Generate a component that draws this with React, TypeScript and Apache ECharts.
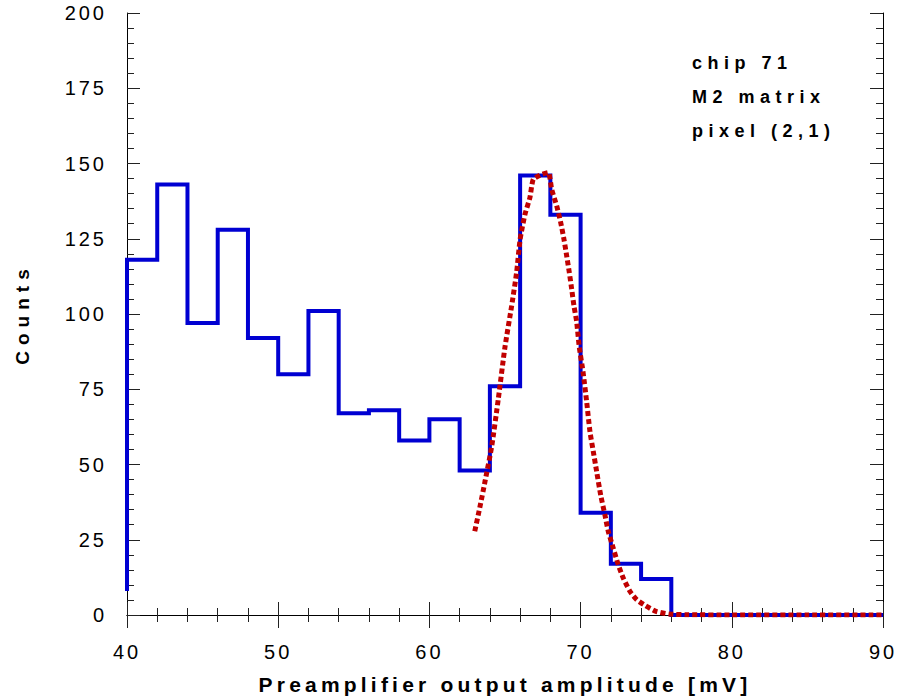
import React, { useEffect, useRef } from "react";
import * as echarts from "echarts";

// Histogram of preamplifier output amplitude, 2 mV bins from 40 to 90 mV
const binStart = 40;
const binWidth = 2;
const leadCount = 8; // level at which the outline starts on the left edge
const counts = [
  118, 143, 97, 128, 92, 80, 101, 67, 68, 58, 65, 48, 76, 146, 133, 34, 17, 12,
  0, 0, 0, 0, 0, 0, 0,
];

// Fitted peak curve (dotted)
const fitX = [
  63.0, 63.35, 63.68, 64.12, 64.56, 65.0, 65.44, 65.77, 66.0, 66.32, 66.65,
  66.87, 67.43, 67.86, 68.09, 68.42, 68.68, 68.9, 69.08, 69.25, 69.41, 69.56,
  69.74, 69.91, 70.16, 70.4, 70.62, 70.84, 71.06, 71.33, 71.61, 71.83, 72.16,
  72.49, 72.82, 73.27, 73.71, 74.26, 74.99, 75.87, 77, 80, 85, 90,
];
const fitY = [
  27.8, 36.1, 44.4, 56.0, 71.9, 89.1, 102.7, 113.9, 124.8, 133.1, 138.7, 144.7,
  146.4, 147.0, 141.4, 135.9, 130.5, 124.8, 119.3, 113.9, 108.3, 102.7, 97.4,
  89.1, 80.8, 70.9, 60.9, 54.3, 47.7, 39.8, 33.2, 27.8, 22.2, 16.7, 12.3, 7.8,
  5.1, 3.2, 1.2, 0.3, 0.1, 0, 0, 0,
];

const annotations = ["chip 71", "M2 matrix", "pixel (2,1)"];
const xTitle = "Preamplifier output amplitude [mV]";
const yTitle = "Counts";

const FONT = "'Liberation Sans', Arial, sans-serif";

// Wide letter spacing used by the plot's lettering
const css = `
.amp-chart text { letter-spacing: 3px; }
.amp-chart text[style*="21px"] { letter-spacing: 4.2px; }
.amp-chart text[style*="19px"] { letter-spacing: 6px; }
.amp-chart text[style*="18px"] { letter-spacing: 5.5px; font-weight: bold; }
`;

export default function App() {
  const ref = useRef<HTMLDivElement>(null);

  useEffect(() => {
    if (!ref.current) return;
    const chart = echarts.init(ref.current, undefined, { renderer: "svg" });

    const stepData: number[][] = [[binStart, leadCount]];
    counts.forEach((c, i) => stepData.push([binStart + i * binWidth, c]));
    stepData.push([binStart + counts.length * binWidth, counts[counts.length - 1]]);

    const fitData = fitX.map((x, i) => [x, fitY[i]]);

    const axisLine = { show: true, lineStyle: { color: "#000", width: 1 } };
    const axisTick = {
      show: true,
      inside: true,
      length: 13,
      lineStyle: { color: "#222", width: 1 },
    };
    const minorTick = {
      show: true,
      splitNumber: 5,
      length: 7,
      lineStyle: { color: "#222", width: 1 },
    };

    chart.setOption({
      animation: false,
      backgroundColor: "#fff",
      grid: { left: 127, right: 15, top: 13, bottom: 83, containLabel: false },
      xAxis: [
        {
          type: "value",
          min: 40,
          max: 90,
          interval: 10,
          axisLine,
          axisTick,
          minorTick,
          splitLine: { show: false },
          axisLabel: {
            margin: 27,
            fontFamily: FONT,
            fontSize: 20,
            color: "#000",
          },
          name: xTitle,
          nameLocation: "middle",
          nameGap: 59,
          nameTextStyle: {
            fontFamily: FONT,
            fontSize: 21,
            fontWeight: "bold",
            color: "#000",
          },
        },
        {
          type: "value",
          position: "top",
          min: 40,
          max: 90,
          interval: 10,
          axisLine,
          axisTick,
          minorTick,
          splitLine: { show: false },
          axisLabel: { show: false },
        },
      ],
      yAxis: [
        {
          type: "value",
          min: 0,
          max: 200,
          interval: 25,
          axisLine,
          axisTick,
          minorTick,
          splitLine: { show: false },
          axisLabel: {
            margin: 20,
            fontFamily: FONT,
            fontSize: 20,
            color: "#000",
          },
          name: yTitle,
          nameLocation: "middle",
          nameGap: 95,
          nameTextStyle: {
            fontFamily: FONT,
            fontSize: 19,
            fontWeight: "bold",
            color: "#000",
          },
        },
        {
          type: "value",
          position: "right",
          min: 0,
          max: 200,
          interval: 25,
          axisLine,
          axisTick,
          minorTick,
          splitLine: { show: false },
          axisLabel: { show: false },
        },
      ],
      graphic: annotations.map((t, i) => ({
        type: "text",
        left: 692,
        top: 54 + i * 34,
        style: {
          text: t,
          font: `bold 18px ${FONT}`,
          fill: "#000",
        },
      })),
      series: [
        {
          type: "line",
          xAxisIndex: 0,
          yAxisIndex: 0,
          data: stepData,
          step: "end",
          symbol: "none",
          lineStyle: { color: "#0000d2", width: 4, join: "miter" },
          z: 2,
        },
        {
          type: "line",
          xAxisIndex: 0,
          yAxisIndex: 0,
          data: fitData,
          smooth: 0.2,
          symbol: "none",
          lineStyle: {
            color: "#c00000",
            width: 5,
            type: [5, 3],
            cap: "butt",
          },
          z: 3,
        },
      ],
    });

    return () => chart.dispose();
  }, []);

  return (
    <>
      <style>{css}</style>
      <div
        ref={ref}
        className="amp-chart"
        style={{ position: "fixed", left: 0, top: 0, width: 898, height: 700 }}
      />
    </>
  );
}
